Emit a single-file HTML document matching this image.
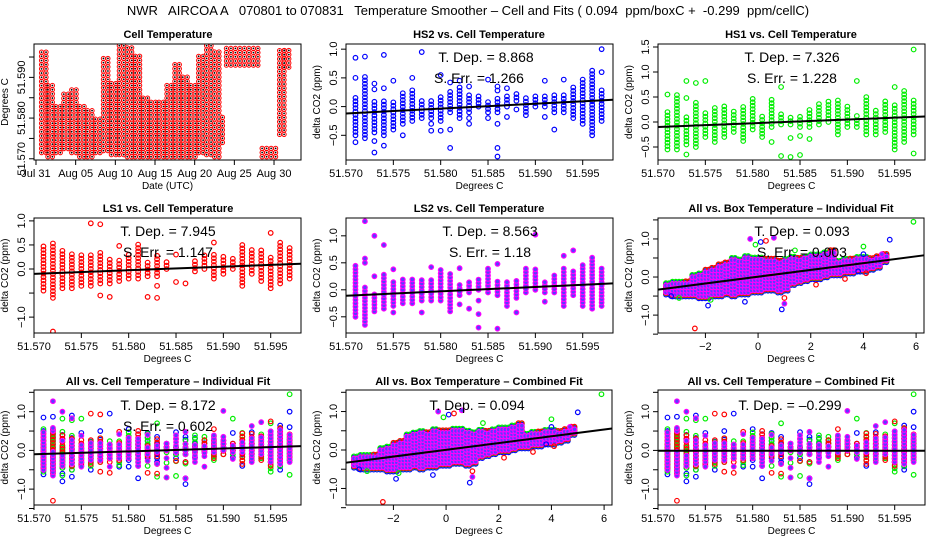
<!DOCTYPE html>
<html><head><meta charset="utf-8">
<style>
html,body{margin:0;padding:0;background:#fff;}
svg{display:block;font-family:"Liberation Sans",Arial,sans-serif;}
.tt{font-size:11px;font-weight:bold;text-anchor:middle;}
.tk{font-size:11px;}
.ax{font-size:10px;text-anchor:middle;}
.an{font-size:14px;text-anchor:middle;}
</style></head>
<body>
<svg id="chart" width="936" height="540" viewBox="0 0 936 540">
<rect width="936" height="540" fill="#fff"/>
<text x="468" y="15" font-size="13" text-anchor="middle" xml:space="preserve" style="white-space:pre">NWR   AIRCOA A   070801 to 070831   Temperature Smoother – Cell and Fits ( 0.094  ppm/boxC +  -0.299  ppm/cellC)</text>
<text class="tt" x="168" y="38">Cell Temperature</text>
<text class="tt" x="479" y="38">HS2 vs. Cell Temperature</text>
<text class="tt" x="791" y="38">HS1 vs. Cell Temperature</text>
<text class="tt" x="168" y="212">LS1 vs. Cell Temperature</text>
<text class="tt" x="479" y="212">LS2 vs. Cell Temperature</text>
<text class="tt" x="791" y="212">All vs. Box Temperature – Individual Fit</text>
<text class="tt" x="168" y="385">All vs. Cell Temperature – Individual Fit</text>
<text class="tt" x="479" y="385">All vs. Box Temperature – Combined Fit</text>
<text class="tt" x="791" y="385">All vs. Cell Temperature – Combined Fit</text>
<g id="plots"></g>
<g id="notes">
<text class="an" x="486" y="62">T. Dep. =  8.868</text>
<text class="an" x="479" y="83">S. Err. = 1.266</text>
<text class="an" x="792" y="62">T. Dep. = 7.326</text>
<text class="an" x="792" y="83">S. Err. = 1.228</text>
<text class="an" x="168" y="236">T. Dep. = 7.945</text>
<text class="an" x="168" y="257">S. Err. = 1.147</text>
<text class="an" x="490" y="236">T. Dep. = 8.563</text>
<text class="an" x="490" y="257">S. Err. = 1.18</text>
<text class="an" x="802" y="236">T. Dep. =  0.093</text>
<text class="an" x="802" y="257">S. Err. = 0.003</text>
<text class="an" x="168" y="410">T. Dep. =  8.172</text>
<text class="an" x="168" y="431">S. Err. =  0.602</text>
<text class="an" x="477" y="410">T. Dep. =  0.094</text>
<text class="an" x="790" y="410">T. Dep. =  –0.299</text>
</g>
</svg>
<script>
// ---------- data ----------
const temps = [51.571,51.572,51.573,51.574,51.575,51.576,51.577,51.578,51.579,51.580,51.581,51.582,51.583,51.584,51.585,51.586,51.587,51.588,51.589,51.590,51.591,51.592,51.593,51.594,51.595,51.596,51.597];
const hs2Lo = [-0.5,-0.55,-0.45,-0.5,-0.4,-0.3,-0.25,-0.2,-0.2,-0.25,-0.1,-0.2,-0.1,0,-0.1,-0.1,0,0.1,-0.15,0,0,-0.1,-0.1,-0.2,-0.3,-0.5,-0.25];
const hs2Hi = [0.2,0.55,0.1,0.1,0.1,0.25,0.3,0.1,0.1,0.2,0.3,0.35,0.2,0.2,0.1,0.15,0.2,0.25,0.2,0.2,0.2,0.2,0.25,0.35,0.5,0.65,0.3];
const hs2Out = [[51.571,0.85],[51.571,0.5],[51.571,-0.62],[51.572,0.87],[51.573,0.4],[51.573,0.3],[51.573,-0.6],[51.573,-0.8],[51.574,0.32],[51.574,0.9],[51.574,-0.68],[51.575,0.45],[51.576,-0.5],[51.577,0.5],[51.578,0.95],[51.579,-0.3],[51.579,-0.42],[51.580,-0.42],[51.580,0.55],[51.581,0.42],[51.581,-0.4],[51.581,-0.72],[51.582,0.45],[51.583,-0.2],[51.583,-0.3],[51.583,0.35],[51.585,0.47],[51.585,-0.2],[51.586,0.35],[51.586,0.28],[51.586,-0.3],[51.586,-0.72],[51.586,-0.87],[51.587,0.32],[51.587,-0.18],[51.588,-0.05],[51.591,0.45],[51.591,-0.18],[51.592,-0.4],[51.593,0.47],[51.597,0.6],[51.597,1.0]];
const hs1Lo = [-0.55,-0.55,-0.45,-0.5,-0.3,-0.4,-0.3,-0.2,-0.38,-0.15,-0.3,-0.1,-0.05,-0.05,-0.1,-0.1,-0.05,0,-0.25,-0.1,-0.1,-0.25,-0.25,-0.2,-0.55,-0.4,-0.25];
const hs1Hi = [0.25,0.55,0.1,0.4,0.2,0.3,0.32,0.25,0.3,0.5,0.15,0.45,0.2,0.1,0.15,0.3,0.4,0.42,0.45,0.32,0.05,0.5,0.28,0.45,0.35,0.65,0.45];
const hs1Out = [[51.571,0.55],[51.573,0.48],[51.573,0.82],[51.573,-0.65],[51.574,0.78],[51.575,0.82],[51.582,-0.4],[51.583,0.7],[51.583,-0.68],[51.584,-0.32],[51.584,-0.7],[51.585,-0.28],[51.585,-0.66],[51.586,-0.34],[51.591,0.82],[51.591,0.12],[51.595,0.7],[51.597,1.45],[51.597,-0.63]];
const ls1Lo = [-0.45,-0.6,-0.4,-0.4,-0.35,-0.35,-0.3,-0.3,-0.25,-0.2,-0.2,-0.15,-0.15,0,0.3,-0.3,-0.05,0,-0.2,-0.1,0,-0.35,-0.1,-0.25,-0.4,-0.3,-0.2];
const ls1Hi = [0.5,0.6,0.4,0.35,0.35,0.35,0.35,0.2,0.2,0.35,0.55,0.2,0.3,0.15,0.3,-0.3,0.2,0.3,0.3,0.3,0.25,0.5,0.45,0.4,0.3,0.6,0.5];
const ls1Out = [[51.572,-1.3],[51.576,0.95],[51.577,0.93],[51.577,-0.55],[51.578,-0.58],[51.579,0.48],[51.582,-0.58],[51.583,-0.35],[51.583,-0.6],[51.585,-0.27],[51.589,0.55],[51.595,0.75]];
const ls2Lo = [-0.5,-0.65,-0.4,-0.35,-0.3,-0.25,-0.25,-0.2,-0.2,-0.2,-0.4,-0.1,-0.05,0,-0.05,-0.1,-0.3,-0.15,-0.05,0,-0.05,-0.05,-0.3,-0.1,-0.3,-0.35,-0.3];
const ls2Hi = [0.5,0.05,-0.05,0.3,0.2,0.25,0.25,0.2,0.2,0.4,0.35,0.15,0.2,0.2,0.45,0.2,0.15,0.2,0.4,0.4,0.15,0.3,0.4,0.35,0.5,0.6,0.42];
const ls2Out = [[51.572,0.5],[51.572,0.58],[51.572,1.27],[51.573,0.25],[51.573,1.0],[51.574,0.83],[51.575,0.38],[51.575,-0.42],[51.578,-0.42],[51.579,0.42],[51.582,0.4],[51.582,-0.27],[51.583,-0.35],[51.584,-0.2],[51.584,-0.45],[51.584,-0.7],[51.586,0.48],[51.586,-0.72],[51.588,-0.42],[51.590,1.02],[51.591,-0.22],[51.593,0.63],[51.594,0.73]];
const fitStart = {hs2:-0.12, hs1:-0.1, ls1:-0.1, ls2:-0.11, cellInd:-0.1, cellComb:-0.01};
const fitEnd = {hs2:0.12, hs1:0.11, ls1:0.11, ls2:0.12, cellInd:0.11, cellComb:-0.01};
const boxBins = [-3.5,-3.25,-3.0,-2.75,-2.5,-2.25,-2.0,-1.75,-1.5,-1.25,-1.0,-0.75,-0.5,-0.25,0,0.25,0.5,0.75,1.0,1.25,1.5,1.75,2.0,2.25,2.5,2.75,3.0,3.25,3.5,3.75,4.0,4.25,4.5,4.75];
const boxLo = [-0.4,-0.45,-0.45,-0.45,-0.45,-0.5,-0.5,-0.45,-0.45,-0.4,-0.45,-0.4,-0.4,-0.35,-0.35,-0.3,-0.3,-0.35,-0.3,-0.15,-0.1,-0.05,0,0,0.05,0.1,0.1,0.15,0.15,0.2,0.2,0.25,0.3,0.45];
const boxHi = [-0.2,-0.15,-0.15,-0.1,0,0.05,0.2,0.25,0.35,0.4,0.45,0.45,0.5,0.5,0.5,0.5,0.5,0.45,0.45,0.5,0.5,0.5,0.55,0.55,0.6,0.7,0.4,0.45,0.5,0.5,0.5,0.5,0.55,0.6];
const boxOutX = [5.9,5.0,-2.4,0.9,-1.9,-0.5,1.0,0.6,-0.3,0.1,-0.1,1.4,4.0,4.0,4.1,3.8,4.7,3.3,2.2,1.0,-3.3,-3.0,-1.8,0.3];
const boxOutY = [1.45,0.98,-1.35,-0.85,-0.75,-0.65,-0.7,1.03,1.0,0.92,0.85,0.7,0.8,0.6,0.1,0.15,0.6,-0.05,-0.2,-0.55,-0.5,-0.55,-0.6,0.95];
const boxOutC = ['g','b','r','b','b','b','m','m','m','b','g','g','g','b','r','b','m','r','r','r','b','g','g','r'];
const boxFitStart = {ind:-0.33, comb:-0.33};
const boxFitEnd = {ind:0.57, comb:0.56};
const cellDayStart = [0.7,1.5,2.5,3.5,4.5,5.5,6.5,7.5,8.5,9.5,10.5,11.5,12.5,13.5,14.5,15.5,16.5,17.5,18.5,19.5,20.5,21.5,22.5,23.5,24.0,28.5,30.7,31.3];
const cellDayEnd   = [1.5,2.5,3.5,4.5,5.5,6.5,7.5,8.5,9.5,10.5,11.5,12.5,13.5,14.5,15.5,16.5,17.5,18.5,19.5,20.5,21.5,22.5,23.5,24.0,28.3,30.7,31.3,32.2];
const cellLo = [51.5715,51.5705,51.5715,51.5725,51.5715,51.5705,51.5705,51.5715,51.572,51.571,51.571,51.5705,51.5705,51.5705,51.5705,51.5705,51.5705,51.5705,51.5705,51.5705,51.5715,51.571,51.5705,51.574,51.593,51.5705,51.576,51.5925];
const cellHi = [51.5965,51.588,51.5835,51.586,51.5875,51.583,51.582,51.5805,51.595,51.589,51.598,51.5975,51.596,51.585,51.584,51.584,51.589,51.594,51.591,51.588,51.596,51.598,51.597,51.581,51.598,51.5735,51.5975,51.597];
const dateTicks = [0,5,10,15,20,25,30];
const dateLabels = ['Jul 31','Aug 05','Aug 10','Aug 15','Aug 20','Aug 25','Aug 30'];
const tempTicks = [51.570,51.575,51.580,51.585,51.590,51.595];
const boxTicks = [-2,0,2,4,6];

// ---------- drawing ----------
const NS = 'http://www.w3.org/2000/svg';
const root = document.getElementById('plots');
function el(tag, attrs, parent) {
  const e = document.createElementNS(NS, tag);
  for (const k in attrs) e.setAttribute(k, attrs[k]);
  parent.appendChild(e);
  return e;
}
const COL = {b:'#0000ff', g:'#00ee00', r:'#ff0000', m:'#ff00ff'};
const FILL = {b:'none', g:'none', r:'none', m:'#5a3cff'};

function makePanel(name, L, T, W, H, xmin, xmax, ymin, ymax) {
  const g = el('g', {}, root);
  
  
  const clipId = 'clip-' + name;
  const cp = el('clipPath', {id: clipId}, g);
  el('rect', {x:L, y:T, width:W, height:H}, cp);
  const pts = el('g', {'clip-path':'url(#' + clipId + ')'}, g);
  
  
  const sx = v => L + (v - xmin) / (xmax - xmin) * W;
  const sy = v => T + H - (v - ymin) / (ymax - ymin) * H;
  return {g, pts, sx, sy, L, T, W, H};
}
function frame(p) {
  const r = el('rect', {x:p.L, y:p.T, width:p.W, height:p.H, fill:'none', stroke:'#000', 'stroke-width':1}, p.g);
  
  
}
function xAxis(p, ticks, labels, title) {
  const y0 = p.T + p.H;
  const first = p.sx(ticks[0]), last = p.sx(ticks[ticks.length-1]);
  el('line', {x1:first, x2:last, y1:y0, y2:y0, stroke:'#000'}, p.g);
  ticks.forEach((t, i) => {
    const x = p.sx(t);
    el('line', {x1:x, x2:x, y1:y0, y2:y0+5, stroke:'#000'}, p.g);
    const tx = el('text', {x:x, y:y0+17, class:'tk', 'text-anchor':'middle'}, p.g);
    tx.textContent = labels[i];
    
    
  });
  const xt = el('text', {x:p.L + p.W/2, y:y0+29, class:'ax'}, p.g);
  xt.textContent = title;
  
  
}
function yAxis(p, ticks, labelled, fmt, title) {
  const x0 = p.L;
  ticks.forEach(t => {
    const y = p.sy(t);
    el('line', {x1:x0-5, x2:x0, y1:y, y2:y, stroke:'#000'}, p.g);
    if (labelled.indexOf(t) >= 0) {
      const tx = el('text', {x:0, y:0, class:'tk', 'text-anchor':'middle', transform:'translate(' + (x0-9) + ',' + y + ') rotate(-90)'}, p.g);
      tx.textContent = fmt(t);
      
      
    }
  });
  const yt = el('text', {x:0, y:0, class:'ax', transform:'translate(' + (x0-26) + ',' + (p.T + p.H/2) + ') rotate(-90)'}, p.g);
  yt.textContent = title;
  
  
}
function dot(p, x, y, c) {
  const d = el('circle', {cx:p.sx(x), cy:p.sy(y), r:2.3, fill:FILL[c], stroke:COL[c], 'stroke-width':1.2}, p.pts);
  
  
}
function columns(p, lo, hi, out, c) {
  const step = 3.4 / ((p.sy(0) - p.sy(1)));
  temps.forEach((t, i) => {
    for (let v = lo[i]; v <= hi[i] + 1e-9; v += step) dot(p, t, v, c);
  });
  out.forEach(o => dot(p, o[0], o[1], c));
}
function fitLine(p, x1, x2, a, b) {
  const ln = el('line', {x1:p.sx(x1), x2:p.sx(x2), y1:p.sy(a), y2:p.sy(b), stroke:'#000', 'stroke-width':2}, p.g);
  
  
}
const f1 = v => v.toFixed(1).replace('-', '\u2212');
const f3 = v => v.toFixed(3);
const TX0 = 51.570, TX1 = 51.5982, BX0 = -3.8, BX1 = 6.3;
const tempLabels = tempTicks.map(f3);

// Panel 1: cell temperature time series
(function(){
  const p = makePanel('cell-temperature-panel', 34, 44, 267, 116, -0.25, 33.4, 51.5697, 51.5982);
  cellDayStart.forEach((d0, i) => {
    const dx = 4.5 / 7.93, dy = 4.2 / 4080;
    for (let d = d0; d <= cellDayEnd[i] + 1e-9; d += dx)
      for (let v = cellLo[i]; v <= cellHi[i] + 1e-9; v += dy) {
        const c = el('circle', {cx:p.sx(d), cy:p.sy(v), r:2.1, fill:'none', stroke:'#ff0000', 'stroke-width':1}, p.pts);
        
        
        const k = el('circle', {cx:p.sx(d), cy:p.sy(v), r:0.9, fill:'#000'}, p.pts);
        
        
      }
  });
  frame(p);
  xAxis(p, dateTicks, dateLabels, 'Date (UTC)');
  yAxis(p, tempTicks, [51.570, 51.580, 51.590], f3, 'Degrees C');
})();

function tempPanel(name, L, T, H, ymin, ymax, series, fitKey, yt, yl) {
  const p = makePanel(name, L, T, 267, H, TX0, TX1, ymin, ymax);
  series.forEach(s => columns(p, s[0], s[1], s[2], s[3]));
  fitLine(p, TX0, TX1, fitStart[fitKey], fitEnd[fitKey]);
  frame(p);
  xAxis(p, tempTicks, tempLabels, 'Degrees C');
  yAxis(p, yt, yl, f1, 'delta CO2 (ppm)');
  return p;
}
const S_HS2 = [hs2Lo, hs2Hi, hs2Out, 'b'], S_HS1 = [hs1Lo, hs1Hi, hs1Out, 'g'],
      S_LS1 = [ls1Lo, ls1Hi, ls1Out, 'r'], S_LS2 = [ls2Lo, ls2Hi, ls2Out, 'm'];
const bigT = [-1.5,-1,-0.5,0,0.5,1,1.5];

tempPanel('hs2-panel', 346, 44, 116, -0.93, 1.09, [S_HS2], 'hs2', [-0.5,0,0.5,1], [-0.5,0,0.5,1]);
tempPanel('hs1-panel', 658, 44, 116, -0.76, 1.56, [S_HS1], 'hs1', [-0.5,0,0.5,1,1.5], [-0.5,0,0.5,1,1.5]);
tempPanel('ls1-panel', 34, 218, 115, -1.33, 1.06, [S_LS1], 'ls1', [-1,-0.5,0,0.5,1], [-1,0,0.5,1]);
tempPanel('ls2-panel', 346, 218, 115, -0.80, 1.33, [S_LS2], 'ls2', [-0.5,0,0.5,1], [-0.5,0,0.5,1]);
tempPanel('all-cell-individual-panel', 34, 390, 115, -1.41, 1.56, [S_HS2, S_HS1, S_LS1, S_LS2], 'cellInd', bigT, [-1,0,1]);
tempPanel('all-cell-combined-panel', 658, 390, 115, -1.41, 1.56, [S_HS2, S_HS1, S_LS1, S_LS2], 'cellComb', bigT, [-1,0,1]);

function boxPanel(name, L, T, H, ymin, ymax, fk) {
  const p = makePanel(name, L, T, 266, H, BX0, BX1, ymin, ymax);
  const step = 3.4 / (p.sy(0) - p.sy(1));
  const layers = [['b',-0.06,0.03],['g',-0.03,0.06],['r',-0.02,0.02],['m',0,0]];
  layers.forEach(ly => {
    boxBins.forEach((bx, i) => {
      for (let k = 0; k < 2; k++)
        for (let v = boxLo[i] + ly[1]; v <= boxHi[i] + ly[2] + 1e-9; v += step) dot(p, bx + k*0.125, v, ly[0]);
    });
  });
  boxOutX.forEach((x, i) => dot(p, x, boxOutY[i], boxOutC[i]));
  fitLine(p, BX0, BX1, boxFitStart[fk], boxFitEnd[fk]);
  frame(p);
  xAxis(p, boxTicks, boxTicks.map(v => String(v).replace('-', '\u2212')), 'Degrees C');
  yAxis(p, bigT, [-1,0,1], f1, 'delta CO2 (ppm)');
}
boxPanel('all-box-individual-panel', 658, 218, 115, -1.47, 1.55, 'ind');
boxPanel('all-box-combined-panel', 346, 390, 115, -1.43, 1.56, 'comb');
</script>
</body></html>
